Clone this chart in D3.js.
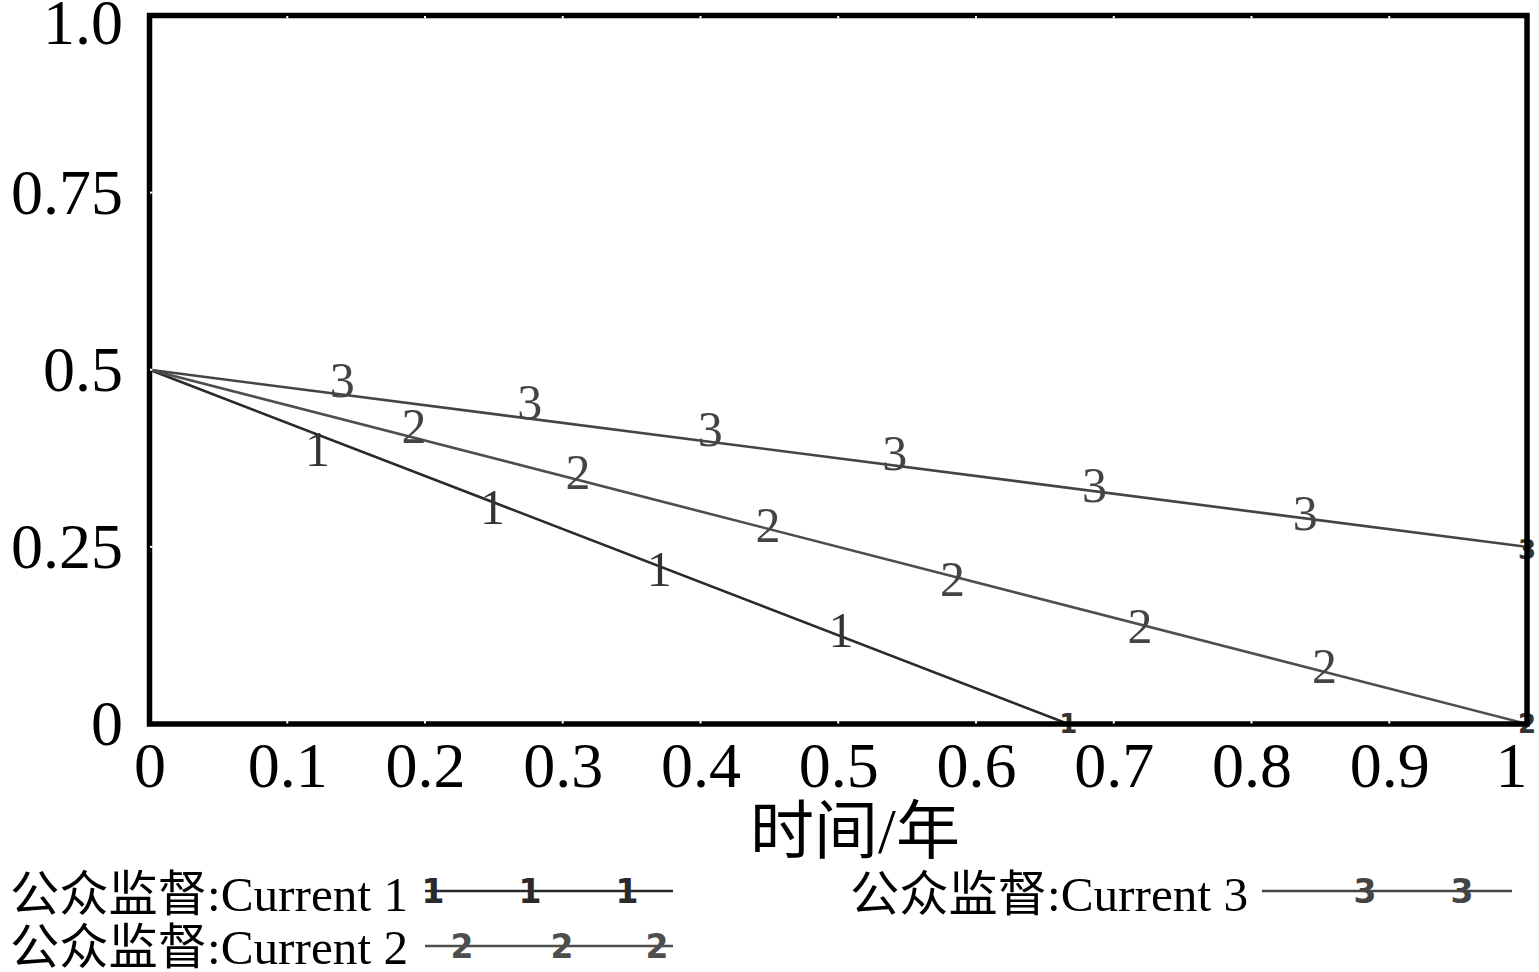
<!DOCTYPE html>
<html>
<head>
<meta charset="utf-8">
<script src="https://cdn.jsdelivr.net/npm/d3@7"></script>
<style>
  html, body { margin: 0; padding: 0; background: #fff; }
  svg { display: block; }
</style>
</head>
<body>
<svg id="chart" width="1539" height="972"></svg>
<script>
// ---- data ----
const seriesNames = ["公众监督:Current 1", "公众监督:Current 2", "公众监督:Current 3"];
const seriesIds = ["1", "2", "3"];
const series1 = [[0, 0.5], [0.667, 0], [1, 0]];
const series2 = [[0, 0.5], [1, 0]];
const series3 = [[0, 0.5], [1, 0.25]];
// label positions (time, value)
const labels1 = [[0.122, 0.388], [0.249, 0.306], [0.370, 0.219], [0.502, 0.132]];
const labels2 = [[0.192, 0.420], [0.311, 0.355], [0.449, 0.281], [0.583, 0.205], [0.719, 0.139], [0.853, 0.082]];
const labels3 = [[0.140, 0.485], [0.276, 0.455], [0.407, 0.416], [0.541, 0.383], [0.686, 0.338], [0.839, 0.298]];
const endMarks = [[0.667, 0.0], [1.0, 0.0], [1.0, 0.245]];
const xTicks = [0, 0.1, 0.2, 0.3, 0.4, 0.5, 0.6, 0.7, 0.8, 0.9, 1];
const xTickLabels = ["0", "0.1", "0.2", "0.3", "0.4", "0.5", "0.6", "0.7", "0.8", "0.9", "1"];
const yTicks = [0, 0.25, 0.5, 0.75, 1.0];
const yTickLabels = ["0", "0.25", "0.5", "0.75", "1.0"];
const xTitle = "时间/年";

const colors = ["#2a2a2a", "#4e4e4e", "#444444"];
const labelColors = ["#333", "#444", "#444"];

const svg = d3.select("#chart");
const x = d3.scaleLinear().domain([0, 1]).range([149.5, 1527]);
const y = d3.scaleLinear().domain([0, 1]).range([724, 15.5]);

const serifStack = "'Liberation Serif', 'Noto Sans CJK SC', serif";

// lines
const line = d3.line().x(d => x(d[0])).y(d => y(d[1]));
const allSeries = [series1, series2, series3];
allSeries.forEach((s, i) => {
  svg.append("path").datum(s).attr("d", line)
    .attr("fill", "none").attr("stroke", colors[i]).attr("stroke-width", 2.6);
});

// in-plot number labels
[labels1, labels2, labels3].forEach((ls, i) => {
  svg.append("g").selectAll("text").data(ls).join("text")
    .attr("x", d => x(d[0])).attr("y", d => y(d[1]))
    .attr("dy", "0.34em")
    .attr("text-anchor", "middle")
    .attr("font-family", serifStack)
    .attr("font-size", 50)
    .attr("fill", labelColors[i])
    .text(seriesIds[i]);
});

// end markers (small bold, partly hidden by frame)
svg.append("g").selectAll("text").data(endMarks).join("text")
  .attr("x", d => x(d[0])).attr("y", d => y(d[1]))
  .attr("dy", "0.34em")
  .attr("text-anchor", "middle")
  .attr("font-family", "'DejaVu Sans', sans-serif")
  .attr("font-weight", "bold")
  .attr("font-size", 26)
  .attr("fill", "#333")
  .text((d, i) => seriesIds[i]);

// frame
svg.append("rect")
  .attr("x", x(0)).attr("y", y(1))
  .attr("width", x(1) - x(0)).attr("height", y(0) - y(1))
  .attr("fill", "none").attr("stroke", "#000").attr("stroke-width", 5.5);

// white inner tick notches
const inner = xTicks.slice(1, -1);
svg.append("g").selectAll("line").data(inner).join("line")
  .attr("x1", d => x(d)).attr("x2", d => x(d))
  .attr("y1", y(0) - 3).attr("y2", y(0) - 0.5)
  .attr("stroke", "#fff").attr("stroke-width", 2);
svg.append("g").selectAll("line").data(inner).join("line")
  .attr("x1", d => x(d)).attr("x2", d => x(d))
  .attr("y1", y(1) + 0.5).attr("y2", y(1) + 3)
  .attr("stroke", "#fff").attr("stroke-width", 2);
svg.append("g").selectAll("line").data(yTicks.slice(1, -1)).join("line")
  .attr("x1", x(0) + 0.5).attr("x2", x(0) + 3)
  .attr("y1", d => y(d)).attr("y2", d => y(d))
  .attr("stroke", "#fff").attr("stroke-width", 2);

// axes (labels only)
const yAxis = d3.axisLeft(y).tickValues(yTicks).tickSize(0).tickPadding(26.5)
  .tickFormat((d, i) => yTickLabels[i]);
const gy = svg.append("g").attr("transform", `translate(${x(0)},0)`).call(yAxis);
gy.select(".domain").remove();
gy.selectAll("text").attr("font-family", serifStack).attr("font-size", 64).attr("fill", "#000")
  .attr("transform", d => d === 1 ? "translate(0,8)" : null);

const xAxis = d3.axisBottom(x).tickValues(xTicks).tickSize(0).tickPadding(18)
  .tickFormat((d, i) => xTickLabels[i]);
const gx = svg.append("g").attr("transform", `translate(0,${y(0)})`).call(xAxis);
gx.select(".domain").remove();
gx.selectAll("text").attr("font-family", serifStack).attr("font-size", 64).attr("fill", "#000")
  .attr("transform", d => d === 1 ? "translate(-16,0)" : null);

// axis title
svg.append("text").attr("x", 855).attr("y", 853)
  .attr("text-anchor", "middle")
  .attr("font-family", serifStack).attr("font-size", 64).attr("fill", "#000")
  .text(xTitle);

// legend
const legendPos = [
  {tx: 10, ty: 911, lx1: 425, lx2: 673, ly: 891, marks: [433, 530, 627]},
  {tx: 10, ty: 964, lx1: 425, lx2: 673, ly: 946, marks: [462, 562, 657]},
  {tx: 850, ty: 911, lx1: 1262, lx2: 1512, ly: 891, marks: [1365, 1462]}
];
legendPos.forEach((p, i) => {
  const g = svg.append("g");
  g.append("text").attr("x", p.tx).attr("y", p.ty)
    .attr("font-family", serifStack).attr("font-size", 49).attr("fill", "#000")
    .attr("textLength", 398).attr("lengthAdjust", "spacingAndGlyphs")
    .text(seriesNames[i]);
  g.append("line").attr("x1", p.lx1).attr("x2", p.lx2).attr("y1", p.ly).attr("y2", p.ly)
    .attr("stroke", colors[i]).attr("stroke-width", 2.6);
  g.selectAll("text.m").data(p.marks).join("text").attr("class", "m")
    .attr("x", d => d).attr("y", p.ly)
    .attr("dy", "0.36em")
    .attr("text-anchor", "middle")
    .attr("font-family", "'DejaVu Sans', sans-serif")
    .attr("font-weight", "bold").attr("font-size", 33)
    .attr("fill", colors[i])
    .text(seriesIds[i]);
});
</script>
</body>
</html>
